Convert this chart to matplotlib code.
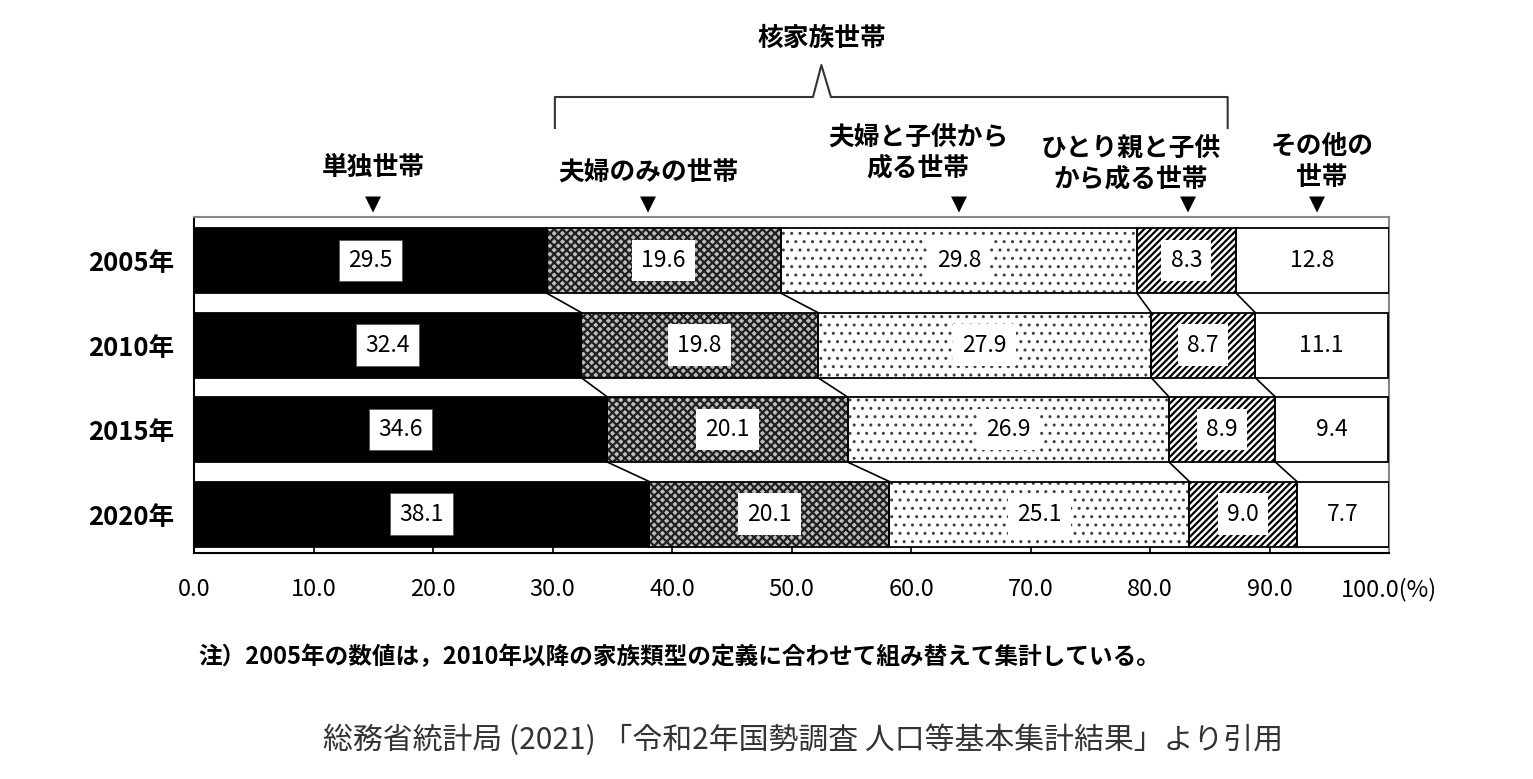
import matplotlib
matplotlib.use("Agg")
import matplotlib.pyplot as plt
import matplotlib.transforms as mtrans
import numpy as np

plt.rcParams['font.family'] = ['Noto Sans CJK JP', 'DejaVu Sans']

years = ["2005年", "2010年", "2015年", "2020年"]
categories = ["単独世帯", "夫婦のみの世帯", "夫婦と子供から\n成る世帯", "ひとり親と子供\nから成る世帯", "その他の\n世帯"]
tandoku = [29.5, 32.4, 34.6, 38.1]
fufu = [19.6, 19.8, 20.1, 20.1]
fufu_kodomo = [29.8, 27.9, 26.9, 25.1]
hitorioya = [8.3, 8.7, 8.9, 9.0]
sonota = [12.8, 11.1, 9.4, 7.7]
xticks = [0, 10, 20, 30, 40, 50, 60, 70, 80, 90, 100]
xticklabels = ["0.0", "10.0", "20.0", "30.0", "40.0", "50.0", "60.0", "70.0", "80.0", "90.0", "100.0(%)"]

series = [tandoku, fufu, fufu_kodomo, hitorioya, sonota]
faces = ["black", "#bdbdbd", "white", "white", "white"]
hatches = [None, "xxxx", "..", "/////", None]
hatch_cols = ["black", "#202020", "#404040", "black", "black"]
hatch_lws = [1.6, 1.6, 1.0, 1.6, 1.6]
boxed = [True, True, True, True, False]
box_edges = ["#555555", "none", "none", "none", "none"]

fig = plt.figure(figsize=(15.33, 7.79), dpi=100)
ax = fig.add_axes([194/1533, 1-553/779, (1389-194)/1533, (553-217)/779])

y = np.arange(len(years))
h = 0.77
left = np.zeros(len(years))
lefts = []
for vals, fc, ht, hc, hlw, bx, be in zip(series, faces, hatches, hatch_cols, hatch_lws, boxed, box_edges):
    vals = np.array(vals)
    with plt.rc_context({'hatch.linewidth': hlw}):
        ax.barh(y, vals, left=left, height=h, color=fc, hatch=ht, edgecolor=hc, linewidth=0, zorder=2)
    ax.barh(y, vals, left=left, height=h, fill=False, edgecolor="black", linewidth=1.3, zorder=3)
    for yi, v, l in zip(y, vals, left):
        if bx:
            ax.text(l + v/2, yi, f"{v:.1f}", ha="center", va="center", fontsize=16.5, zorder=5,
                    bbox=dict(boxstyle="square,pad=0.4", fc="white", ec=be, lw=0.6))
        else:
            ax.text(l + v/2, yi, f"{v:.1f}", ha="center", va="center", fontsize=16.5, zorder=5)
    left = left + vals
    lefts.append(left.copy())
plt.rcParams['hatch.linewidth'] = 1.6

# connector lines between bars
for cum in lefts[:4]:
    for i in range(len(years) - 1):
        ax.plot([cum[i], cum[i+1]], [y[i] + h/2, y[i+1] - h/2], color="black", lw=1.2, zorder=1)

ax.set_xlim(0, 100)
ax.set_ylim(3.46, -0.515)
ax.set_yticks(y)
ax.set_yticklabels(years, fontsize=18.5, fontweight="bold")
ax.tick_params(axis="y", length=0, pad=14)
ax.set_xticks(xticks)
ax.set_xticklabels(xticklabels, fontsize=17)
ax.tick_params(axis="x", direction="in", length=6, width=1.2, pad=31)
for lab in ax.get_xticklabels():
    lab.set_verticalalignment("baseline")
for s in ["top", "right"]:
    ax.spines[s].set_color("#888888")
    ax.spines[s].set_linewidth(1.5)
for s in ["left", "bottom"]:
    ax.spines[s].set_color("black")
    ax.spines[s].set_linewidth(1.5)

# top annotations (x in data, y in figure pixels)
tr = mtrans.blended_transform_factory(ax.transData, fig.transFigure)
def fy(p):
    return 1 - p/779

cat_x = [15.0, 38.0, 60.6, 78.4, 94.4]
tri_x = [15.0, 38.0, 64.0, 83.2, 94.0]
cat_y = [167, 173, 153, 164, 162]
for cx, cy, c in zip(cat_x, cat_y, categories):
    ax.text(cx, fy(cy), c, transform=tr, ha="center", va="center", fontsize=18.5, fontweight="bold",
            linespacing=1.15)
for tx in tri_x:
    ax.text(tx, fy(204), "▼", transform=tr, ha="center", va="center", fontsize=15,
            family=["DejaVu Sans"])

# bracket
bx = [30.2, 30.2, 51.8, 52.5, 53.3, 86.5, 86.5]
by = [128, 97, 97, 65, 97, 97, 128]
ax.plot(bx, [fy(v) for v in by], transform=tr, color="#333333", lw=1.5, clip_on=False)
ax.text(52.5, fy(38), "核家族世帯", transform=tr, ha="center", va="center", fontsize=18.5, fontweight="bold")

fig.text(198/1533, fy(657), "注）2005年の数値は，2010年以降の家族類型の定義に合わせて組み替えて集計している。",
         ha="left", va="center", fontsize=17, fontweight="bold")
fig.text(803/1533, fy(740), "総務省統計局 (2021) 「令和2年国勢調査 人口等基本集計結果」より引用",
         ha="center", va="center", fontsize=21.5, color="#333333")

fig.savefig("out.png", dpi=100)
